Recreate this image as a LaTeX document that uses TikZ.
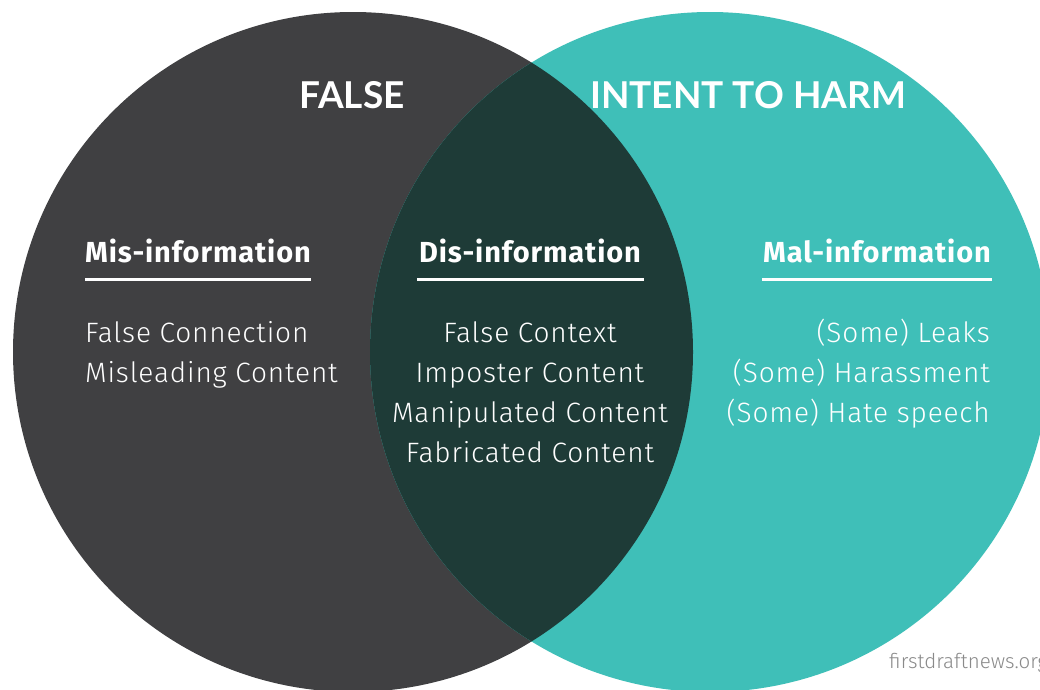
\documentclass[tikz,border=0pt]{standalone}
\usepackage{fontspec}
\setmainfont{Lato}
\newfontfamily\firafont[LetterSpace=3]{Fira Sans}
\newfontfamily\firalight[LetterSpace=3]{Fira Sans Light}
\newfontfamily\firaurl{Fira Sans Light}
\definecolor{darkc}{HTML}{404042}
\definecolor{tealc}{HTML}{3FBFB8}
\definecolor{midc}{HTML}{1E3B37}
\definecolor{urlc}{HTML}{8A8A8A}
\begin{document}
\begin{tikzpicture}[x=1pt,y=-1pt,
  title/.style={text=white,font=\fontsize{37}{40}\selectfont\bfseries,inner sep=0pt},
  head/.style={text=white,font=\firafont\fontsize{29}{32}\selectfont\bfseries,inner sep=0pt},
  body/.style={text=white,font=\firalight\fontsize{28}{40}\selectfont,inner sep=0pt},
  rule/.style={white,line width=3pt}]
\useasboundingbox (0,0) rectangle (1040,689);
\fill[white] (0,0) rectangle (1040,689);
\begin{scope}
\clip (0,0) rectangle (1040,689);
\fill[darkc] (353,352) circle[radius=340];
\fill[tealc] (710,352) circle[radius=340];
\begin{scope}
\clip (353,352) circle[radius=340];
\fill[midc] (710,352) circle[radius=340];
\end{scope}
\end{scope}
% titles
\node[title,anchor=base] (false) at (352,108) {FALSE};
\node[title,anchor=base] (harm) at (748,108) {INTENT TO HARM};
% headings
\node[head,anchor=base west] (mis) at (85,262) {Mis-information};
\node[head,anchor=base] (dis) at (530,262) {Dis-information};
\node[head,anchor=base east] (mal) at (991,262) {Mal-information};
\draw[rule] (85,279) -- (311,279);
\draw[rule] (417,279) -- (644,279);
\draw[rule] (762,279) -- (992,279);
% body
\node[body,anchor=base west] (m1) at (85,342) {False Connection};
\node[body,anchor=base west] (m2) at (85,382) {Misleading Content};
\node[body,anchor=base] (d1) at (530,342) {False Context};
\node[body,anchor=base] (d2) at (530,382) {Imposter Content};
\node[body,anchor=base] (d3) at (530,422) {Manipulated Content};
\node[body,anchor=base] (d4) at (530,462) {Fabricated Content};
\node[body,anchor=base east] (l1) at (990,342) {(Some) Leaks};
\node[body,anchor=base east] (l2) at (990,382) {(Some) Harassment};
\node[body,anchor=base east] (l3) at (990,422) {(Some) Hate speech};
\node[text=urlc,font=\firaurl\fontsize{20.5}{24}\selectfont,inner sep=0pt,anchor=base west] (url) at (889,668) {firstdraftnews.org};
\end{tikzpicture}
\end{document}
